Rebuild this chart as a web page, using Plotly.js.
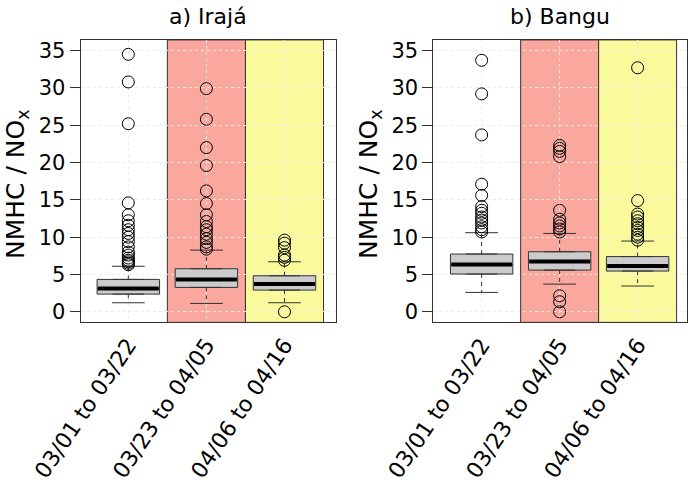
<!DOCTYPE html>
<html>
<head>
<meta charset="utf-8">
<script src="https://cdn.plot.ly/plotly-3.0.1.min.js"></script>
<style>html,body{margin:0;padding:0;background:#fff;}#chart{width:689px;height:487px;}</style>
</head>
<body>
<div id="chart"></div>
<script>
// ---- data ----
const categories = ['03/01 to 03/22', '03/23 to 04/05', '04/06 to 04/16'];
const panelTitles = ['a) Irajá', 'b) Bangu'];
const yTitle = 'NMHC / NO<sub>x</sub>';

const irajaQ1 = [2.37, 3.27, 2.91];
const irajaMedian = [3.13, 4.34, 3.71];
const irajaQ3 = [4.34, 5.77, 4.83];
const irajaLowWhisker = [1.21, 1.12, 1.21];
const irajaHighWhisker = [6.1, 8.27, 6.7];
const irajaOutliers1 = [34.5, 30.8, 25.2, 14.6, 13.0, 12.2, 11.6, 11.0, 10.5, 10.0, 9.4, 8.7, 8.0, 7.6, 7.2, 6.9, 6.7, 6.5, 6.3];
const irajaOutliers2 = [29.9, 25.8, 22.0, 19.6, 16.2, 14.5, 13.0, 12.1, 11.4, 11.0, 10.4, 9.8, 9.3, 8.7, 8.4];
const irajaOutliers3 = [9.6, 9.2, 8.6, 7.6, 7.3, 6.9, 0.0];

const banguQ1 = [5.06, 5.59, 5.46];
const banguMedian = [6.33, 6.75, 6.13];
const banguQ3 = [7.74, 8.05, 7.4];
const banguLowWhisker = [2.6, 3.71, 3.45];
const banguHighWhisker = [10.6, 10.5, 9.48];
const banguOutliers1 = [33.7, 29.2, 23.7, 17.1, 15.6, 14.1, 13.6, 13.2, 12.7, 12.3, 11.9, 11.4, 11.0, 10.7];
const banguOutliers2 = [22.3, 21.9, 21.5, 20.8, 13.6, 12.4, 11.9, 11.5, 11.1, 10.7, 2.15, 1.35, 0.0];
const banguOutliers3 = [32.7, 14.9, 13.1, 12.7, 12.2, 11.8, 11.3, 10.9, 10.4, 10.0, 9.6];

// ---- styles ----
const FONT = 'DejaVu Sans, Liberation Sans, Arial, sans-serif';
const boxHalf = 0.4, capHalf = 0.21;
const xpos = categories.map((c, i) => i + 1);

function panelTraces(q1, med, q3, lo, hi, outs, xa, ya) {
  const traces = [];
  traces.push({
    type: 'box', x: xpos, q1: q1, median: med, q3: q3,
    lowerfence: q1, upperfence: q3, width: 2 * boxHalf,
    fillcolor: '#cbcbcb', line: {color: '#333333', width: 1},
    boxpoints: false, hoverinfo: 'skip', xaxis: xa, yaxis: ya, showlegend: false
  });
  const wx = [], wy = [];
  xpos.forEach((x, i) => {
    wx.push(x, x, null, x, x, null);
    wy.push(q3[i], hi[i], null, q1[i], lo[i], null);
  });
  traces.push({type: 'scatter', mode: 'lines', x: wx, y: wy, xaxis: xa, yaxis: ya,
    line: {color: '#333333', width: 1, dash: '4px,4px'}, showlegend: false, hoverinfo: 'skip'});
  const cx = [], cy = [];
  xpos.forEach((x, i) => {
    cx.push(x - capHalf, x + capHalf, null, x - capHalf, x + capHalf, null);
    cy.push(hi[i], hi[i], null, lo[i], lo[i], null);
  });
  traces.push({type: 'scatter', mode: 'lines', x: cx, y: cy, xaxis: xa, yaxis: ya,
    line: {color: '#333333', width: 1}, showlegend: false, hoverinfo: 'skip'});
  const mx = [], my = [];
  xpos.forEach((x, i) => {
    mx.push(x - boxHalf + 0.01, x + boxHalf - 0.01, null);
    my.push(med[i], med[i], null);
  });
  traces.push({type: 'scatter', mode: 'lines', x: mx, y: my, xaxis: xa, yaxis: ya,
    line: {color: '#000000', width: 4}, showlegend: false, hoverinfo: 'skip'});
  const ox = [], oy = [];
  outs.forEach((arr, i) => arr.forEach(v => { ox.push(xpos[i]); oy.push(v); }));
  traces.push({type: 'scatter', mode: 'markers', x: ox, y: oy, xaxis: xa, yaxis: ya,
    marker: {symbol: 'circle-open', size: 12, color: '#000000', line: {width: 1}},
    showlegend: false, hoverinfo: 'skip'});
  return traces;
}

const data = [].concat(
  panelTraces(irajaQ1, irajaMedian, irajaQ3, irajaLowWhisker, irajaHighWhisker,
    [irajaOutliers1, irajaOutliers2, irajaOutliers3], 'x', 'y'),
  panelTraces(banguQ1, banguMedian, banguQ3, banguLowWhisker, banguHighWhisker,
    [banguOutliers1, banguOutliers2, banguOutliers3], 'x2', 'y2')
);

const yRange = [-1.42, 36.43];
const yDomain = [0.338, 0.918];
function xAxis(domain, range, anchor) {
  return {
    domain: domain, range: range, anchor: anchor,
    tickmode: 'array', tickvals: xpos, ticktext: categories, tickangle: -56,
    tickfont: {family: FONT, size: 22, color: '#000'},
    ticks: '', showline: true, mirror: true, linecolor: '#333333', linewidth: 1,
    showgrid: true, gridcolor: '#ebebeb', griddash: 'dot', gridwidth: 1, zeroline: false
  };
}
function yAxis(anchor) {
  return {
    domain: yDomain, range: yRange, anchor: anchor, dtick: 5, tick0: 0,
    tickfont: {family: FONT, size: 21, color: '#000'},
    ticks: 'outside', ticklen: 10, tickcolor: '#333333', ticklabelstandoff: 0,
    showline: true, mirror: true, linecolor: '#333333', linewidth: 1,
    showgrid: true, gridcolor: '#ebebeb', griddash: 'dot', gridwidth: 1, zeroline: false
  };
}

const xd1 = [0.1171, 0.4877], xd2 = [0.6289, 0.9967];
const bandColors = ['#faa89e', '#fafa9c'];
const shapes = [];
[['x', 'y'], ['x2', 'y2']].forEach(([xa, ya]) => {
  [[1.5, 2.5, bandColors[0]], [2.5, 3.5, bandColors[1]]].forEach(([a, b, col]) => {
    shapes.push({type: 'rect', xref: xa, yref: ya + ' domain', x0: a, x1: b, y0: 0, y1: 1,
      fillcolor: col, line: {color: '#333333', width: 1}, layer: 'below'});
  });
});

const annotations = [
  {text: panelTitles[0], xref: 'paper', yref: 'paper', x: (xd1[0] + xd1[1]) / 2, y: 1 - 16 / 487,
    xanchor: 'center', yanchor: 'middle', showarrow: false, font: {family: FONT, size: 22, color: '#000'}},
  {text: panelTitles[1], xref: 'paper', yref: 'paper', x: (xd2[0] + xd2[1]) / 2, y: 1 - 16 / 487,
    xanchor: 'center', yanchor: 'middle', showarrow: false, font: {family: FONT, size: 22, color: '#000'}},
  {text: yTitle, xref: 'paper', yref: 'paper', x: 17 / 689, y: 1 - 184 / 487, textangle: -90,
    xanchor: 'center', yanchor: 'middle', showarrow: false, font: {family: FONT, size: 25, color: '#000'}},
  {text: yTitle, xref: 'paper', yref: 'paper', x: 370 / 689, y: 1 - 184 / 487, textangle: -90,
    xanchor: 'center', yanchor: 'middle', showarrow: false, font: {family: FONT, size: 25, color: '#000'}}
];

const layout = {
  width: 689, height: 487, autosize: false,
  margin: {l: 0, r: 0, t: 0, b: 0},
  paper_bgcolor: '#ffffff', plot_bgcolor: '#ffffff',
  showlegend: false,
  xaxis: xAxis(xd1, [0.39, 3.66], 'y'),
  yaxis: yAxis('x'),
  xaxis2: xAxis(xd2, [0.38, 3.63], 'y2'),
  yaxis2: yAxis('x2'),
  shapes: shapes,
  annotations: annotations,
  font: {family: FONT}
};

Plotly.newPlot('chart', data, layout, {displayModeBar: false, staticPlot: true});
</script>
</body>
</html>
